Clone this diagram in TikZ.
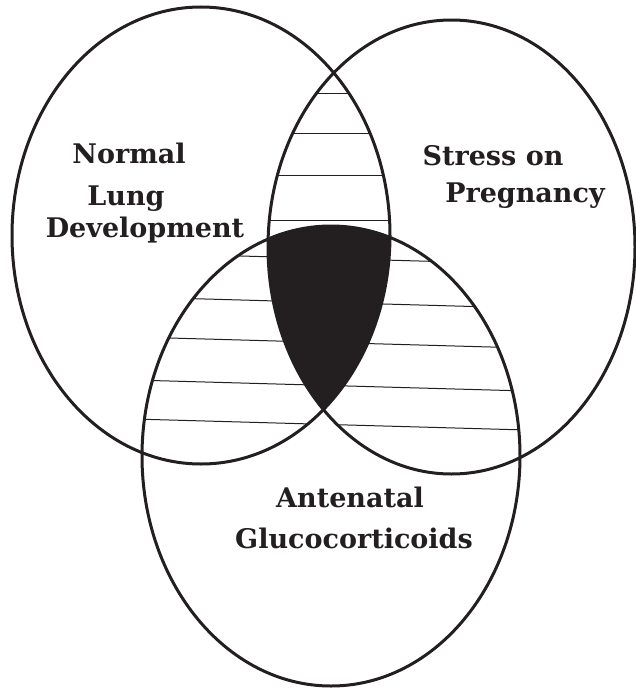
\documentclass[tikz,border=0pt]{standalone}
\usepackage{fontspec}
\setmainfont{DejaVu Serif}
\definecolor{ink}{RGB}{35,31,32}
\tikzset{
  venn/.style={draw=ink, line width=3pt},
  hatchline/.style={draw=ink, line width=1pt},
  lbl/.style={font=\fontsize{27}{27}\selectfont\bfseries, text=ink, anchor=base, inner sep=0pt},
}
\begin{document}
\begin{tikzpicture}[x=1pt,y=-1pt]
\useasboundingbox (0,0) rectangle (636,688);
% top lens hatching
\begin{scope}
  \clip (201,235.5) ellipse [x radius=189, y radius=228.5];
  \clip (451.5,247) ellipse [x radius=183.5, y radius=227];
  \foreach \yy in {93.3,133.3,175.7,220.7}
    \draw[hatchline] (0,\yy) -- (636,\yy);
\end{scope}
% left lens hatching
\begin{scope}
  \clip (201,235.5) ellipse [x radius=189, y radius=228.5];
  \clip (331,456) ellipse [x radius=189, y radius=230];
  \foreach \yy in {258.5,302.5,342.5,385.5,424.5}
    \draw[hatchline] (0,\yy-9.24) -- (636,\yy+8.57);
\end{scope}
% right lens hatching
\begin{scope}
  \clip (451.5,247) ellipse [x radius=183.5, y radius=227];
  \clip (331,456) ellipse [x radius=189, y radius=230];
  \foreach \yy in {258.5,302.5,342.5,385.5,424.5}
    \draw[hatchline] (0,\yy-9.24) -- (636,\yy+8.57);
\end{scope}
% triple intersection
\begin{scope}
  \clip (201,235.5) ellipse [x radius=189, y radius=228.5];
  \clip (451.5,247) ellipse [x radius=183.5, y radius=227];
  \fill[ink] (331,456) ellipse [x radius=189, y radius=230];
\end{scope}
% outlines
\draw[venn] (201,235.5) ellipse [x radius=189, y radius=228.5];
\draw[venn] (451.5,247) ellipse [x radius=183.5, y radius=227];
\draw[venn] (331,456) ellipse [x radius=189, y radius=230];
% labels
\node[lbl] (normal) at (129,163) {Normal};
\node[lbl] (lung) at (126,205) {Lung};
\node[lbl] (devel) at (145,237) {Development};
\node[lbl] (stress) at (493,165) {Stress on};
\node[lbl] (preg) at (525,202) {Pregnancy};
\node[lbl] (ante) at (350,507) {Antenatal};
\node[lbl] (gluco) at (354,548) {Glucocorticoids};
\end{tikzpicture}
\end{document}
